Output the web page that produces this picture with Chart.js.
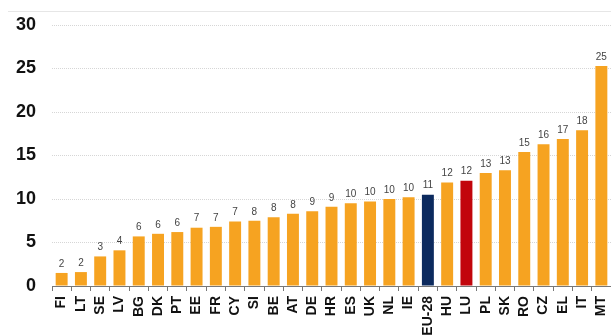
<!DOCTYPE html>
<html>
<head>
<meta charset="utf-8">
<script src="https://cdn.jsdelivr.net/npm/chart.js@4/dist/chart.umd.min.js"></script>
<style>
  html, body { margin: 0; padding: 0; background: #fff; }
  #wrap { position: relative; width: 611px; height: 336px; overflow: hidden; }
  #topline { position: absolute; left: 8px; right: 0; top: 11px; height: 0; border-top: 1px solid #e6e6e6; }
  canvas { position: absolute; left: 0; top: 0; }
</style>
</head>
<body>
<div id="wrap">
  <div id="topline"></div>
  <canvas id="c" width="611" height="336"></canvas>
</div>
<script>
const categories = ["FI","LT","SE","LV","BG","DK","PT","EE","FR","CY","SI","BE","AT","DE","HR","ES","UK","NL","IE","EU-28","HU","LU","PL","SK","RO","CZ","EL","IT","MT"];
const values = [1.5, 1.6, 3.4, 4.1, 5.7, 6.0, 6.2, 6.7, 6.8, 7.4, 7.5, 7.9, 8.3, 8.6, 9.1, 9.5, 9.7, 10.0, 10.2, 10.5, 11.9, 12.1, 13.0, 13.3, 15.4, 16.3, 16.9, 17.9, 25.3];
const valueLabels = ["2","2","3","4","6","6","6","7","7","7","8","8","8","9","9","10","10","10","10","11","12","12","13","13","15","16","17","18","25"];
const yTicks = [0, 5, 10, 15, 20, 25, 30];

const barColors = categories.map(c => c === "EU-28" ? "#0c2a5e" : (c === "LU" ? "#c2050c" : "#f6a321"));

const labelPlugin = {
  id: "valueLabels",
  afterDatasetsDraw(chart) {
    const ctx = chart.ctx;
    const meta = chart.getDatasetMeta(0);
    ctx.save();
    ctx.font = "10px 'Liberation Sans', Arial, sans-serif";
    ctx.fillStyle = "#444";
    ctx.textAlign = "center";
    ctx.textBaseline = "bottom";
    meta.data.forEach((bar, i) => {
      ctx.fillText(valueLabels[i], bar.x, bar.y - 4);
    });
    ctx.restore();
  }
};

new Chart(document.getElementById("c"), {
  type: "bar",
  data: {
    labels: categories,
    datasets: [{
      data: values,
      backgroundColor: barColors,
      borderWidth: 0,
      barPercentage: 0.62,
      categoryPercentage: 1.0
    }]
  },
  options: {
    responsive: false,
    animation: false,
    devicePixelRatio: 1,
    layout: { padding: { left: 0, right: 0, top: 25, bottom: 0 } },
    plugins: { legend: { display: false }, tooltip: { enabled: false } },
    scales: {
      x: {
        offset: true,
        afterFit(scale) { scale.height = 50; scale.paddingLeft = 0; scale.paddingRight = 0; scale.paddingTop = 0; scale.paddingBottom = 0; },
        border: { display: true, color: "#777", width: 1 },
        grid: { display: true, offset: true, drawOnChartArea: false, drawTicks: true, tickLength: 5, color: "#777" },
        ticks: {
          autoSkip: false,
          maxRotation: 90,
          minRotation: 90,
          padding: 5,
          color: "#111",
          font: { family: "'Liberation Sans', Arial, sans-serif", size: 14, weight: "bold" }
        }
      },
      y: {
        min: 0,
        max: 30,
        afterBuildTicks(axis) { axis.ticks = yTicks.map(v => ({ value: v })); },
        afterFit(scale) { scale.width = 52; scale.paddingTop = 0; scale.paddingBottom = 0; scale.paddingLeft = 0; scale.paddingRight = 0; },
        border: { display: false, dash: [1, 1] },
        grid: {
          drawTicks: false,
          color: ctx => (ctx.tick && ctx.tick.value === 0) ? "rgba(0,0,0,0)" : "#d6d6d6",
          lineWidth: 1
        },
        ticks: {
          padding: 16,
          color: "#111",
          font: { family: "'Liberation Sans', Arial, sans-serif", size: 18, weight: "bold" }
        }
      }
    }
  },
  plugins: [labelPlugin]
});
</script>
</body>
</html>
